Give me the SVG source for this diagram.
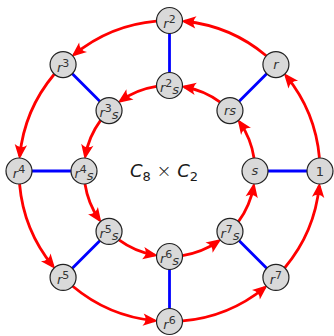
<svg xmlns="http://www.w3.org/2000/svg" width="334" height="336" viewBox="0 0 334 336">
<style>
.node circle{fill:#d9d9d9;stroke:#222;stroke-width:1.2}
.lbl{font-family:"DejaVu Sans",sans-serif;font-size:13px;fill:#333;text-anchor:middle}
.it{font-style:italic}
.sup{font-size:11px}
.blue{stroke:#0000ff;stroke-width:2.8;fill:none}
.red{stroke:#ff0000;stroke-width:2.8;fill:none;marker-end:url(#ah)}
.title{font-family:"DejaVu Sans",sans-serif;font-size:18px;fill:#1a1a1a;text-anchor:middle}
</style>
<defs>
<marker id="ah" markerUnits="userSpaceOnUse" viewBox="-12 -7 16 14" markerWidth="16" markerHeight="14" refX="0" refY="0" orient="auto">
<path d="M3.5,0 L-11.5,-6.2 Q-6.5,0 -11.5,6.2 Z" fill="#ff0000"/>
</marker>
</defs>
<g id="connectors">
<line class="blue" x1="320" y1="171" x2="255" y2="171"/>
<line class="blue" x1="275.92" y1="64.58" x2="229.96" y2="110.54"/>
<line class="blue" x1="169.5" y1="20.5" x2="169.5" y2="85.5"/>
<line class="blue" x1="63.08" y1="64.58" x2="109.04" y2="110.54"/>
<line class="blue" x1="19" y1="171" x2="84" y2="171"/>
<line class="blue" x1="63.08" y1="277.42" x2="109.04" y2="231.46"/>
<line class="blue" x1="169.5" y1="321.5" x2="169.5" y2="256.5"/>
<line class="blue" x1="275.92" y1="277.42" x2="229.96" y2="231.46"/>
<path class="red" d="M319.43,157.88 A150.5,150.5 0 0 0 285.96,75.68"/>
<path class="red" d="M266.24,55.71 A150.5,150.5 0 0 0 184.45,21.24"/>
<path class="red" d="M156.38,21.07 A150.5,150.5 0 0 0 74.18,54.54"/>
<path class="red" d="M54.21,74.26 A150.5,150.5 0 0 0 19.74,156.05"/>
<path class="red" d="M19.57,184.12 A150.5,150.5 0 0 0 53.04,266.32"/>
<path class="red" d="M72.76,286.29 A150.5,150.5 0 0 0 154.55,320.76"/>
<path class="red" d="M182.62,320.93 A150.5,150.5 0 0 0 264.82,287.46"/>
<path class="red" d="M284.79,267.74 A150.5,150.5 0 0 0 319.26,185.95"/>
<path class="red" d="M254.01,158.05 A85.5,85.5 0 0 0 239.58,122.02"/>
<path class="red" d="M220.09,102.07 A85.5,85.5 0 0 0 184.42,86.81"/>
<path class="red" d="M156.55,86.49 A85.5,85.5 0 0 0 120.52,100.92"/>
<path class="red" d="M100.57,120.41 A85.5,85.5 0 0 0 85.31,156.08"/>
<path class="red" d="M84.99,183.95 A85.5,85.5 0 0 0 99.42,219.98"/>
<path class="red" d="M118.91,239.93 A85.5,85.5 0 0 0 154.58,255.19"/>
<path class="red" d="M182.45,255.51 A85.5,85.5 0 0 0 218.48,241.08"/>
<path class="red" d="M238.43,221.59 A85.5,85.5 0 0 0 253.69,185.92"/>
</g>
<g id="n-1" class="node"><circle cx="320" cy="171" r="13"/><text class="lbl" x="320" y="175.5">1</text></g>
<g id="n-r" class="node"><circle cx="275.92" cy="64.58" r="13"/><text class="lbl it" x="275.92" y="68.5">r</text></g>
<g id="n-r2" class="node"><circle cx="169.5" cy="20.5" r="13"/><text class="lbl" x="169.5" y="27.5"><tspan class="it">r</tspan><tspan class="sup" dy="-5">2</tspan></text></g>
<g id="n-r3" class="node"><circle cx="63.08" cy="64.58" r="13"/><text class="lbl" x="63.08" y="71.5"><tspan class="it">r</tspan><tspan class="sup" dy="-5">3</tspan></text></g>
<g id="n-r4" class="node"><circle cx="19" cy="171" r="13"/><text class="lbl" x="19" y="178"><tspan class="it">r</tspan><tspan class="sup" dy="-5">4</tspan></text></g>
<g id="n-r5" class="node"><circle cx="63.08" cy="277.42" r="13"/><text class="lbl" x="63.08" y="284.4"><tspan class="it">r</tspan><tspan class="sup" dy="-5">5</tspan></text></g>
<g id="n-r6" class="node"><circle cx="169.5" cy="321.5" r="13"/><text class="lbl" x="169.5" y="328.5"><tspan class="it">r</tspan><tspan class="sup" dy="-5">6</tspan></text></g>
<g id="n-r7" class="node"><circle cx="275.92" cy="277.42" r="13"/><text class="lbl" x="275.92" y="284.4"><tspan class="it">r</tspan><tspan class="sup" dy="-5">7</tspan></text></g>
<g id="n-s" class="node"><circle cx="255" cy="171" r="13"/><text class="lbl it" x="255" y="175">s</text></g>
<g id="n-rs" class="node"><circle cx="229.96" cy="110.54" r="13"/><text class="lbl it" x="229.96" y="114.5">rs</text></g>
<g id="n-r2s" class="node"><circle cx="169.5" cy="85.5" r="13"/><text class="lbl" x="169.5" y="92"><tspan class="it">r</tspan><tspan class="sup" dy="-5">2</tspan><tspan class="it" dy="7">s</tspan></text></g>
<g id="n-r3s" class="node"><circle cx="109.04" cy="110.54" r="13"/><text class="lbl" x="109.04" y="117"><tspan class="it">r</tspan><tspan class="sup" dy="-5">3</tspan><tspan class="it" dy="7">s</tspan></text></g>
<g id="n-r4s" class="node"><circle cx="84" cy="171" r="13"/><text class="lbl" x="84" y="177.5"><tspan class="it">r</tspan><tspan class="sup" dy="-5">4</tspan><tspan class="it" dy="7">s</tspan></text></g>
<g id="n-r5s" class="node"><circle cx="109.04" cy="231.46" r="13"/><text class="lbl" x="109.04" y="238"><tspan class="it">r</tspan><tspan class="sup" dy="-5">5</tspan><tspan class="it" dy="7">s</tspan></text></g>
<g id="n-r6s" class="node"><circle cx="169.5" cy="256.5" r="13"/><text class="lbl" x="169.5" y="263"><tspan class="it">r</tspan><tspan class="sup" dy="-5">6</tspan><tspan class="it" dy="7">s</tspan></text></g>
<g id="n-r7s" class="node"><circle cx="229.96" cy="231.46" r="13"/><text class="lbl" x="229.96" y="238"><tspan class="it">r</tspan><tspan class="sup" dy="-5">7</tspan><tspan class="it" dy="7">s</tspan></text></g>
<text id="title" class="title" x="164" y="177"><tspan font-style="italic">C</tspan><tspan font-size="13" dy="4">8</tspan><tspan dy="-4" font-weight="300"> × </tspan><tspan font-style="italic">C</tspan><tspan font-size="13" dy="4">2</tspan></text>
</svg>
